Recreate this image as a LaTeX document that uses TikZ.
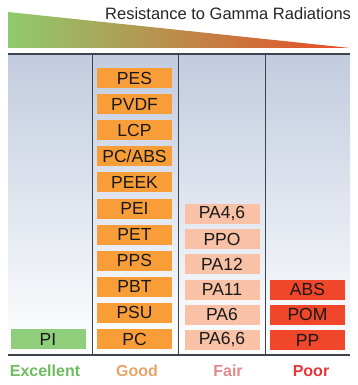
\documentclass[tikz,border=0pt]{standalone}
\usepackage{fontspec}
\setmainfont{Liberation Sans}

\definecolor{hdgreen}{HTML}{8FCB6E}
\definecolor{hdorange}{HTML}{D9A04E}
\definecolor{hdred}{HTML}{EA4A25}
\definecolor{bgtop}{HTML}{C2CCDF}
\definecolor{bgmid}{HTML}{EEF1F6}
\definecolor{rulec}{HTML}{3C434C}
\definecolor{goodc}{HTML}{F89D38}
\definecolor{fairc}{HTML}{F9C1A6}
\definecolor{poorc}{HTML}{F0462A}
\definecolor{excc}{HTML}{8FCF7C}
\definecolor{txexc}{HTML}{6CBD5F}
\definecolor{txgood}{HTML}{E8A468}
\definecolor{txfair}{HTML}{E08A8A}
\definecolor{txpoor}{HTML}{E63838}

\begin{document}
\begin{tikzpicture}[x=1pt,y=-1pt]
	\tikzstyle{mat} = [ rectangle, minimum width=75pt, minimum height=20pt, inner sep=0pt, text=black!90, font={\fontsize{17.5}{17.5}\selectfont} ];
	\tikzstyle{good} = [ mat, fill=goodc ];
	\tikzstyle{fair} = [ mat, fill=fairc ];
	\tikzstyle{poor} = [ mat, fill=poorc ];
	\tikzstyle{exc}  = [ mat, fill=excc ];
	\tikzstyle{grade} = [ font={\fontsize{16}{16}\selectfont\bfseries} ];
	\tikzstyle{rule} = [ draw=rulec, line width=1.2pt ];

	\useasboundingbox (0,0) rectangle (358,385);

	% header
	\shade[left color=hdgreen, middle color=hdorange, right color=hdred]
		(8,12) -- (8,48) -- (350,48) -- cycle;
	\node[anchor=base west, inner sep=0pt, text=black!85, font={\fontsize{16.5}{16.5}\selectfont}] (title) at (105,20) {Resistance to Gamma Radiations};

	% table
	\shade[top color=bgtop, middle color=bgmid, bottom color=white] (8,54) rectangle (350,355);
	\draw[rule] (8,54) -- (350,54);
	\draw[rule, line width=1.8pt] (8,355) -- (350,355);
	\foreach \x in {92,178,265}
		\draw[rule, line width=1pt] (\x,54) -- (\x,355);

	\node[exc] (pi) at (48,339) {PI};

	\foreach \m [count=\i] in {PES,PVDF,LCP,{PC/ABS},PEEK,PEI,PET,PPS,PBT,PSU,PC}
		\node[good] (good-\i) at (134.5,{78+(\i-1)*26.1}) {\m};

	\foreach \m [count=\i] in {{PA4,6},PPO,PA12,PA11,PA6,{PA6,6}}
		\node[fair] (fair-\i) at (222,{340-(6-\i)*25.2}) {\m};

	\foreach \m [count=\i] in {ABS,POM,PP}
		\node[poor] (poor-\i) at (307.5,{340-(3-\i)*25.2}) {\m};

	\node[grade, text=txexc]  (excellent) at (45,371) {Excellent};
	\node[grade, text=txgood] (goodlbl)   at (137,371) {Good};
	\node[grade, text=txfair] (fairlbl)   at (228,371) {Fair};
	\node[grade, text=txpoor] (poorlbl)   at (311,371) {Poor};
\end{tikzpicture}
\end{document}
